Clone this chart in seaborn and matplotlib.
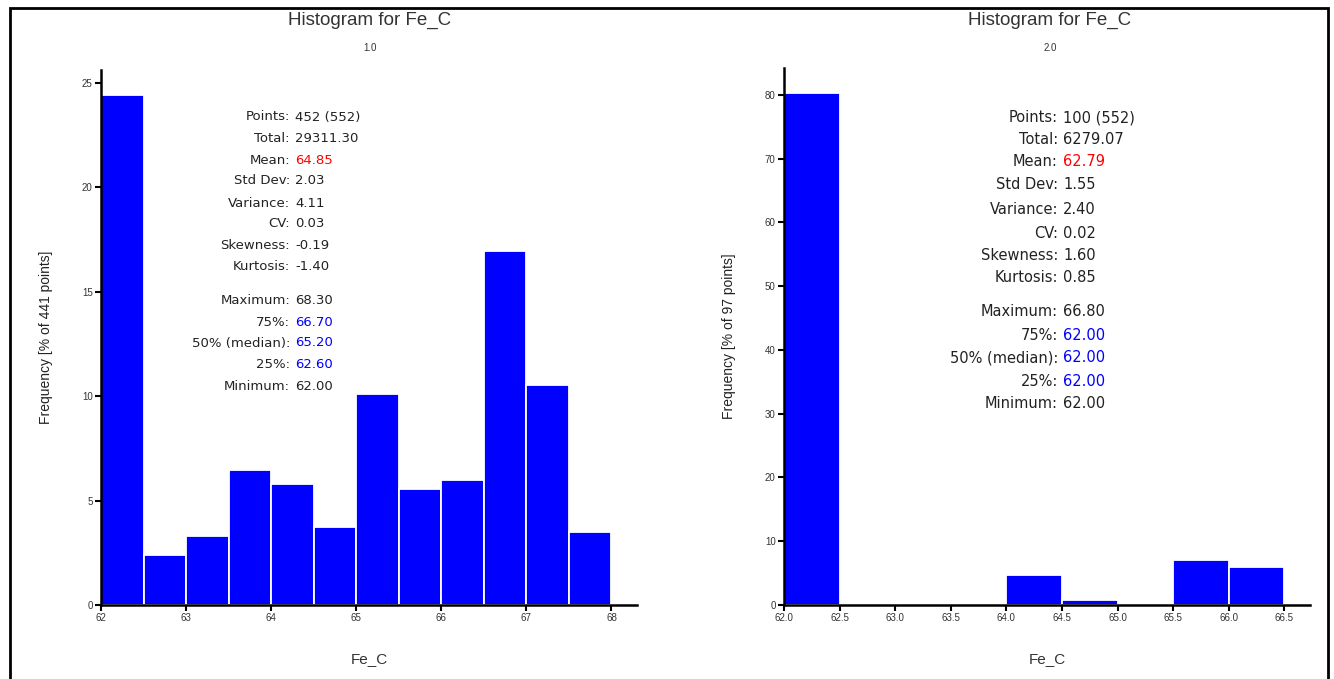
import matplotlib
matplotlib.use('Agg')
import matplotlib.pyplot as plt
import seaborn as sns
from matplotlib.patches import Rectangle

# bin edges and frequency (%)
left_edges = [62.0, 62.5, 63.0, 63.5, 64.0, 64.5, 65.0, 65.5, 66.0, 66.5, 67.0, 67.5, 68.0]
left_freq = [24.4, 2.4, 3.3, 6.45, 5.8, 3.75, 10.1, 5.55, 6.0, 16.95, 10.55, 3.5]

right_edges = [62.0, 62.5, 63.0, 63.5, 64.0, 64.5, 65.0, 65.5, 66.0, 66.5]
right_freq = [80.3, 0.0, 0.0, 0.0, 4.75, 0.75, 0.0, 7.0, 5.9]

left_ticks = [62, 63, 64, 65, 66, 67, 68]
left_ticklabels = ['62', '63', '64', '65', '66', '67', '68']
right_ticks = [62.0, 62.5, 63.0, 63.5, 64.0, 64.5, 65.0, 65.5, 66.0, 66.5]
right_ticklabels = ['62.0', '62.5', '63.0', '63.5', '64.0', '64.5', '65.0', '65.5', '66.0', '66.5']

stat_names = ['Points:', 'Total:', 'Mean:', 'Std Dev:', 'Variance:', 'CV:', 'Skewness:', 'Kurtosis:',
              'Maximum:', '75%:', '50% (median):', '25%:', 'Minimum:']
left_stats = ['452 (552)', '29311.30', '64.85', '2.03', '4.11', '0.03', '-0.19', '-1.40',
              '68.30', '66.70', '65.20', '62.60', '62.00']
right_stats = ['100 (552)', '6279.07', '62.79', '1.55', '2.40', '0.02', '1.60', '0.85',
               '66.80', '62.00', '62.00', '62.00', '62.00']
stat_colors = ['#222222', '#222222', '#ff0000', '#222222', '#222222', '#222222', '#222222', '#222222',
               '#222222', '#0000ff', '#0000ff', '#0000ff', '#222222']

sns.set_style('white')
plt.rcParams['font.family'] = ['Liberation Sans', 'DejaVu Sans']

W, H = 1334, 679
fig = plt.figure(figsize=(W / 100, H / 100), dpi=100)

def px(x, y):
    return x / W, 1 - y / H

fig.patches.append(Rectangle((10 / W, -0.1), 1318 / W, 1.1 - 8 / H, transform=fig.transFigure,
                             fill=False, edgecolor='black', linewidth=2))

ax1 = fig.add_axes([101 / W, 1 - 605 / H, 536 / W, 535 / H])
ax2 = fig.add_axes([784 / W, 1 - 605 / H, 526 / W, 537 / H])

panels = [
    (ax1, left_edges, left_freq, left_ticks, left_ticklabels, (62, 68.3), (0, 25.6), range(0, 26, 5),
     'Frequency [% of 441 points]', -0.089),
    (ax2, right_edges, right_freq, right_ticks, right_ticklabels, (62, 66.73), (0, 84.2), range(0, 81, 10),
     'Frequency [% of 97 points]', -0.091),
]

for ax, edges, freq, ticks, labels, xlim, ylim, yticks, ylab, ylab_x in panels:
    centers = [(a + b) / 2 for a, b in zip(edges[:-1], edges[1:])]
    sns.histplot(x=centers, weights=freq, bins=edges, ax=ax, color='#0000ff', alpha=1,
                 edgecolor='white', linewidth=1.3)
    ax.set_xlim(*xlim)
    ax.set_ylim(*ylim)
    ax.set_xticks(ticks)
    ax.set_xticklabels(labels)
    ax.set_yticks(list(yticks))
    sns.despine(ax=ax)
    for s in ['left', 'bottom']:
        ax.spines[s].set_linewidth(1.8)
        ax.spines[s].set_color('black')
    ax.tick_params(direction='out', length=4, width=1.5, labelsize=7, colors='black',
                   labelcolor='#333333', pad=2, left=True, bottom=True)
    ax.set_xlabel('Fe_C', fontsize=11, color='#333333')
    ax.set_ylabel(ylab, fontsize=10, color='#222222')
    ax.xaxis.set_label_coords(0.5, -0.088)
    ax.yaxis.set_label_coords(ylab_x, 0.5)
    ax.grid(False)

# titles
for cx, sub in [(370, '1.0'), (1050, '2.0')]:
    fig.text(*px(cx, 20), 'Histogram for Fe_C', ha='center', va='center', fontsize=13.5, color='#333333')
    fig.text(*px(cx, 48), sub, ha='center', va='center', fontsize=7, color='#333333')

# summary statistics
left_rows = [117, 138, 160, 181, 203, 224, 245, 267, 300, 322, 343, 365, 386]
right_rows = [118, 140, 162, 185, 209, 233, 255, 278, 312, 335, 358, 382, 404]
for colon_x, rows, vals, fs in [(290, left_rows, left_stats, 9.5), (1058, right_rows, right_stats, 10.5)]:
    for name, val, col, y in zip(stat_names, vals, stat_colors, rows):
        fig.text(*px(colon_x, y), name, ha='right', va='center', fontsize=fs, color='#222222',
                 family='DejaVu Sans')
        fig.text(*px(colon_x + 5, y), val, ha='left', va='center', fontsize=fs, color=col,
                 family='DejaVu Sans')

fig.savefig('out.png', dpi=100)
